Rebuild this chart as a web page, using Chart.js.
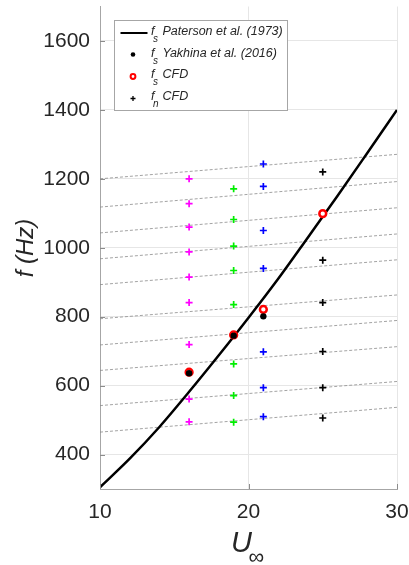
<!DOCTYPE html>
<html>
<head>
<meta charset="utf-8">
<script src="https://cdn.jsdelivr.net/npm/chart.js@4.4.1/dist/chart.umd.min.js"></script>
<style>
  html, body { margin: 0; padding: 0; background: #fff; }
  #wrap { width: 409px; height: 565px; }
</style>
</head>
<body>
<div id="wrap"><canvas id="freqChart" width="409" height="565"></canvas></div>
<script>
// axis ticks
const xTicks = [10, 20, 30];
const yTicks = [400, 600, 800, 1000, 1200, 1400, 1600];

// f_s Paterson et al. (1973) curve
const patersonU = [10, 12, 14, 16, 18, 20, 22, 24, 26, 28, 30];
const patersonF = [305, 388, 480, 582, 688, 797, 910, 1030, 1151, 1275, 1400];

// f_s Yakhina et al. (2016)
const yakhinaU = [16, 19, 21];
const yakhinaF = [636, 745, 801];

// f_s CFD
const fsCfdU = [16, 19, 21, 25];
const fsCfdF = [639, 747, 821, 1099];

// f_n CFD, one column of crosses per velocity
const fnU16 = [495, 561, 719, 841, 915, 988, 1060, 1128, 1200];
const fnU19 = [494, 571, 663, 835, 934, 1005, 1082, 1171];
const fnU21 = [510, 594, 698, 940, 1050, 1178, 1243];
const fnU25 = [506, 594, 699, 841, 964, 1220];

// grey dashed lines: value at U = 10 and at U = 30
const dashStartF = [465, 542, 644, 718, 794, 893, 968, 1043, 1118, 1200];
const dashEndF = [537, 612, 713, 789, 863, 965, 1040, 1116, 1192, 1271];

// legend text
const legendText = ["Paterson et al. (1973)", "Yakhina et al. (2016)", "CFD", "CFD"];
const legendSub = ["s", "s", "s", "n"];

const FONT = "'Liberation Sans', Arial, sans-serif";
const TEXT_COLOR = "#262626";

const toPoints = (xs, ys) => xs.map((x, i) => ({ x: x, y: ys[i] }));
const column = (u, ys) => ys.map((y) => ({ x: u, y: y }));

const datasets = [];

dashStartF.forEach((f0, i) => {
  datasets.push({
    data: [{ x: 10, y: f0 }, { x: 30, y: dashEndF[i] }],
    showLine: true,
    borderColor: "rgba(140, 140, 140, 0.8)",
    borderWidth: 1,
    borderDash: [3, 2],
    pointRadius: 0,
    order: 10,
  });
});

datasets.push({
  data: toPoints(patersonU, patersonF),
  showLine: true,
  cubicInterpolationMode: "monotone",
  borderColor: "#000",
  borderWidth: 2.5,
  pointRadius: 0,
  order: 8,
});

const crossSets = [
  [16, fnU16, "#ff00ff"],
  [19, fnU19, "#00ee00"],
  [21, fnU21, "#0000ff"],
  [25, fnU25, "#000000"],
];
crossSets.forEach(([u, ys, color]) => {
  datasets.push({
    data: column(u, ys),
    pointStyle: "cross",
    pointRadius: 3.5,
    borderColor: color,
    borderWidth: 1.7,
    order: 6,
  });
});

datasets.push({
  data: toPoints(fsCfdU, fsCfdF),
  pointStyle: "circle",
  pointRadius: 3.4,
  borderColor: "#ff0000",
  backgroundColor: "#ffffff",
  borderWidth: 2.5,
  order: 4,
});

datasets.push({
  data: toPoints(yakhinaU, yakhinaF),
  pointStyle: "circle",
  pointRadius: 3.2,
  borderColor: "#000",
  backgroundColor: "#000",
  borderWidth: 0,
  order: 2,
});

const decorPlugin = {
  id: "decor",
  afterDraw(chart) {
    const ctx = chart.ctx;
    const area = chart.chartArea;
    const xs = chart.scales.x;
    const ys = chart.scales.y;
    ctx.save();

    // inward tick marks
    ctx.strokeStyle = "#8c8c8c";
    ctx.lineWidth = 1;
    ctx.beginPath();
    yTicks.forEach((v) => {
      const py = Math.round(ys.getPixelForValue(v)) + 0.5;
      ctx.moveTo(area.left, py);
      ctx.lineTo(area.left + 5, py);
    });
    xTicks.forEach((v) => {
      const px = Math.round(xs.getPixelForValue(v)) + 0.5;
      ctx.moveTo(px, area.bottom);
      ctx.lineTo(px, area.bottom - 5);
    });
    ctx.stroke();

    // axis titles
    ctx.fillStyle = TEXT_COLOR;
    ctx.textBaseline = "alphabetic";
    ctx.textAlign = "left";
    ctx.font = "italic 29px " + FONT;
    ctx.fillText("U", 231, 551.5);
    ctx.font = "22px " + FONT;
    ctx.fillText("\u221E", 248.5, 564);

    ctx.save();
    ctx.translate(26, 248);
    ctx.rotate(-Math.PI / 2);
    ctx.textAlign = "center";
    ctx.textBaseline = "middle";
    ctx.font = "italic 24px " + FONT;
    ctx.fillText("f (Hz)", 0, 0);
    ctx.restore();

    // legend box
    const bx = 114.5, by = 20.5, bw = 173, bh = 90;
    ctx.fillStyle = "#fff";
    ctx.fillRect(bx, by, bw, bh);
    ctx.strokeStyle = "#a6a6a6";
    ctx.lineWidth = 1;
    ctx.strokeRect(bx, by, bw, bh);

    const rows = [32, 53.5, 75, 97];
    const mx = 133;

    ctx.strokeStyle = "#000";
    ctx.lineWidth = 2;
    ctx.beginPath();
    ctx.moveTo(120.5, rows[0] + 1);
    ctx.lineTo(147.5, rows[0] + 1);
    ctx.stroke();

    ctx.fillStyle = "#000";
    ctx.beginPath();
    ctx.arc(mx, rows[1] + 1, 2.3, 0, Math.PI * 2);
    ctx.fill();

    ctx.fillStyle = "#fff";
    ctx.strokeStyle = "#ff0000";
    ctx.lineWidth = 2;
    ctx.beginPath();
    ctx.arc(mx, rows[2] + 1.5, 2.4, 0, Math.PI * 2);
    ctx.fill();
    ctx.stroke();

    ctx.strokeStyle = "#000";
    ctx.lineWidth = 1.3;
    ctx.beginPath();
    ctx.moveTo(mx - 2.5, rows[3] + 1.5);
    ctx.lineTo(mx + 2.5, rows[3] + 1.5);
    ctx.moveTo(mx, rows[3] - 1);
    ctx.lineTo(mx, rows[3] + 4);
    ctx.stroke();

    ctx.fillStyle = TEXT_COLOR;
    ctx.textBaseline = "middle";
    rows.forEach((ry, i) => {
      ctx.font = "italic 12.5px " + FONT;
      ctx.fillText("f", 151, ry);
      ctx.font = "italic 10px " + FONT;
      ctx.fillText(legendSub[i], 153, ry + 7.5);
      ctx.font = "italic 12.5px " + FONT;
      ctx.fillText(legendText[i], 162.5, ry);
    });

    ctx.restore();
  },
};

const ctx = document.getElementById("freqChart").getContext("2d");
const freqChart = new Chart(ctx, {
  type: "scatter",
  data: { datasets: datasets },
  options: {
    responsive: false,
    animation: false,
    layout: { padding: { top: 5, right: 12, left: 0, bottom: 0 } },
    plugins: {
      legend: { display: false },
      tooltip: { enabled: false },
    },
    scales: {
      x: {
        type: "linear",
        min: 10,
        max: 30,
        afterBuildTicks: (scale) => {
          scale.ticks = xTicks.map((v) => ({ value: v }));
        },
        afterFit: (scale) => {
          scale.height = 76;
          scale.paddingLeft = 0;
          scale.paddingRight = 0;
        },
        grid: { color: "#e6e6e6", drawTicks: false },
        border: { color: "#a6a6a6" },
        ticks: {
          color: TEXT_COLOR,
          font: { family: FONT, size: 21 },
          padding: 11,
          maxRotation: 0,
          callback: (v) => String(v),
        },
      },
      y: {
        type: "linear",
        min: 300,
        max: 1700,
        afterBuildTicks: (scale) => {
          scale.ticks = yTicks.map((v) => ({ value: v }));
        },
        afterFit: (scale) => {
          scale.width = 100;
          scale.paddingTop = 0;
          scale.paddingBottom = 0;
        },
        grid: { color: "#e6e6e6", drawTicks: false },
        border: { color: "#a6a6a6" },
        ticks: {
          color: TEXT_COLOR,
          font: { family: FONT, size: 21 },
          padding: 10,
          callback: (v) => String(v),
        },
      },
    },
  },
  plugins: [decorPlugin],
});
</script>
</body>
</html>
